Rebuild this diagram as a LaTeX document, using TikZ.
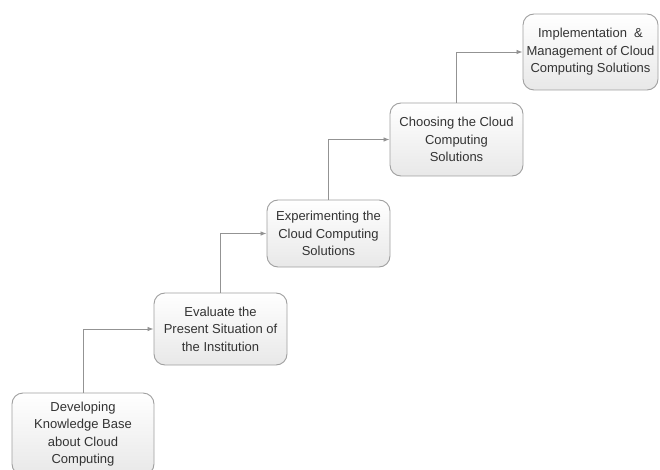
\documentclass[tikz,border=0pt]{standalone}
\usepackage{fontspec}
\setmainfont{Liberation Sans}
\usepackage{tikz}
\usetikzlibrary{shapes,arrows.meta,positioning}

\begin{document}
\begin{tikzpicture}
                %% setup
                [
                    x=1pt, y=-1pt,
                    stepnode/.style={rectangle, rounded corners=11pt, draw=gray!75, line width=0.9pt, top color=white, bottom color=gray!18, text=black!80, align=center, font=\fontsize{13}{17.5}\selectfont, inner sep=2pt},
                    flowline/.style={draw=gray!85, line width=0.8pt, -{Latex[length=6pt,width=4.5pt]}},
                ]
                    \useasboundingbox (0,0) rectangle (660,470);
                    %% Nodes
                    \node [stepnode, minimum width=142pt, minimum height=82pt] (knowledge) at (83,434) {Developing\\Knowledge Base\\about Cloud\\Computing};
                    \node [stepnode, minimum width=133pt, minimum height=72pt] (evaluate) at (220.5,329) {Evaluate the\\Present Situation of\\the Institution};
                    \node [stepnode, minimum width=123pt, minimum height=67pt] (experiment) at (328.5,233.5) {Experimenting the\\Cloud Computing\\Solutions};
                    \node [stepnode, minimum width=133pt, minimum height=73pt] (choosing) at (456.5,139.5) {Choosing the Cloud\\Computing\\Solutions};
                    \node [stepnode, minimum width=135pt, minimum height=76pt] (implement) at (590.5,52) {Implementation \ \&\\Management of Cloud\\Computing Solutions};
                    %% Lines
                    \draw[flowline] (knowledge.north) |- (evaluate.west);
                    \draw[flowline] (evaluate.north) |- (experiment.west);
                    \draw[flowline] (experiment.north) |- (choosing.west);
                    \draw[flowline] (choosing.north) |- (implement.west);
                \end{tikzpicture}
\end{document}
